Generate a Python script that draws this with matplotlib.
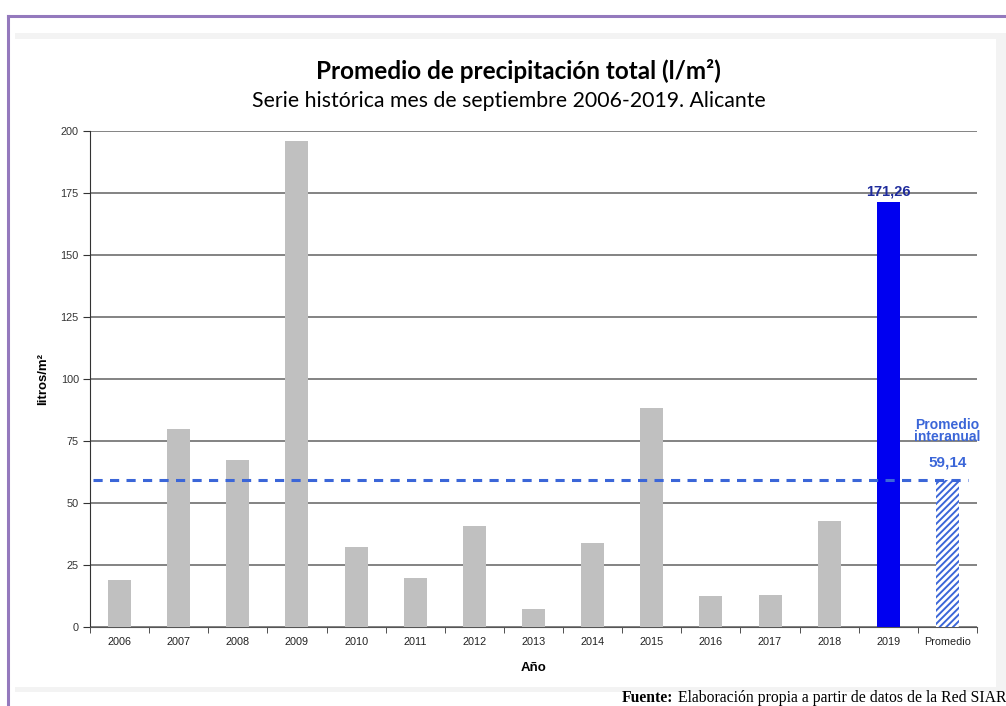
import numpy as np
import matplotlib
matplotlib.use("Agg")
import matplotlib.pyplot as plt
from matplotlib.patches import Rectangle
from matplotlib.ticker import FixedLocator

# Precipitación total de septiembre (l/m2), Alicante
years = ["2006", "2007", "2008", "2009", "2010", "2011", "2012",
         "2013", "2014", "2015", "2016", "2017", "2018", "2019"]
rain = [19.0, 80.0, 67.2, 195.8, 32.3, 19.8, 40.6,
        7.4, 33.9, 88.3, 12.6, 13.0, 42.6, 171.26]
mean_label = "Promedio"
mean_value = 59.14

W, H = 1006, 706
fig = plt.figure(figsize=(W / 100, H / 100), dpi=100)
fig.patch.set_facecolor("white")


def px_rect(x0, y0, x1, y1, **kw):
    # rectangle in pixel coordinates (top-left origin)
    fig.add_artist(Rectangle((x0 / W, 1 - y1 / H), (x1 - x0) / W, (y1 - y0) / H,
                             transform=fig.transFigure, **kw))


# marco gris claro alrededor del gráfico y borde morado de la página
px_rect(15, 33, 1010, 692, facecolor="#f3f3f3", edgecolor="none", zorder=0)
px_rect(15, 39, 996, 687, facecolor="white", edgecolor="none", zorder=0)
purple = "#9479bd"
fig.add_artist(plt.Line2D([8 / W, 1.0], [1 - 15.5 / H, 1 - 15.5 / H],
                          transform=fig.transFigure, color=purple, lw=2.2))
fig.add_artist(plt.Line2D([8 / W, 8 / W], [1 - 15.5 / H, 0],
                          transform=fig.transFigure, color=purple, lw=2.2))

ax = fig.add_axes([90 / W, 1 - 627 / H, (977 - 90) / W, (627 - 131) / H])
ax.set_facecolor("none")

cats = years + [mean_label]
x = np.arange(len(cats))
colors = ["#c0c0c0"] * (len(years) - 1) + ["#0000f0"]
ax.bar(x[:-1], rain, width=0.39, color=colors, zorder=3)

blue = "#3b66d8"
plt.rcParams["hatch.linewidth"] = 1.4
ax.bar(x[-1], mean_value, width=0.39, color="white", edgecolor=blue,
       hatch="/////", lw=0, zorder=3)
ax.plot([-0.45, 14.35], [mean_value, mean_value], color=blue, lw=2.2,
        dashes=(3.0, 2.4), zorder=4)

ax.set_xlim(-0.5, len(cats) - 0.5)
ax.set_ylim(0, 200)
ax.set_yticks(np.arange(0, 201, 25))
ax.yaxis.grid(True, color="#6e6e6e", lw=1.2, zorder=0)
ax.set_axisbelow(True)

ax.set_xticks(x)
ax.set_xticklabels(cats)
ax.xaxis.set_minor_locator(FixedLocator(np.arange(-0.5, len(cats), 1.0)))
ax.tick_params(axis="x", which="major", length=0, pad=7)
ax.tick_params(axis="x", which="minor", length=4, color="#333333", direction="out")
ax.tick_params(axis="y", length=5, color="#333333", pad=3)

sans = ["Liberation Sans", "DejaVu Sans"]
for lab in ax.get_xticklabels():
    lab.set_family(sans)
    lab.set_fontsize(7.8)
    lab.set_color("#222222")
for lab in ax.get_yticklabels():
    lab.set_family(sans)
    lab.set_fontsize(7.8)
    lab.set_color("#333333")

for side in ("top", "right"):
    ax.spines[side].set_visible(False)
ax.spines["left"].set_color("#333333")
ax.spines["bottom"].set_color("#555555")

ax.set_ylabel("litros/m²", fontsize=9.5, fontweight="bold",
              family=sans, labelpad=8)
ax.set_xlabel("Año", fontsize=9.5, fontweight="bold",
              family=sans, labelpad=11)

# etiquetas de valor
ax.annotate(f"{rain[-1]:.2f}".replace(".", ","), (x[-2], rain[-1]),
            xytext=(0, 3), textcoords="offset points", ha="center", va="bottom",
            fontsize=10.5, fontweight="bold", color="#1f2c9c", family=sans)
ax.annotate(f"{mean_value:.2f}".replace(".", ","), (x[-1], mean_value),
            xytext=(0, 8), textcoords="offset points", ha="center", va="bottom",
            fontsize=11, fontweight="bold", color=blue, family=sans)
ax.annotate("Promedio\ninteranual", (x[-1], mean_value),
            xytext=(0, 26), textcoords="offset points", ha="center", va="bottom",
            fontsize=10, fontweight="bold", color=blue, linespacing=0.8,
            family=sans)

title_font = ["Lato", "DejaVu Sans"]
fig.text(518 / W, 1 - 71 / H, "Promedio de precipitación total (l/m²)",
         ha="center", va="center", fontsize=17.5, fontweight="bold", family=title_font)
fig.text(509 / W, 1 - 101 / H, "Serie histórica mes de septiembre 2006-2019. Alicante",
         ha="center", va="center", fontsize=15.3, family=title_font)

# pie de fuente alineado a la derecha
serif = ["Liberation Serif", "DejaVu Serif"]
renderer = fig.canvas.get_renderer()
body = fig.text(1006 / W, 1 - 698 / H,
                " Elaboración propia a partir de datos de la Red SIAR",
                ha="right", va="center", fontsize=11.3, family=serif)
left = body.get_window_extent(renderer).x0
fig.text(left / W, 1 - 698 / H, "Fuente:", ha="right", va="center",
         fontsize=11.3, fontweight="bold", family=serif)

fig.savefig("out.png", dpi=100, facecolor="white")
